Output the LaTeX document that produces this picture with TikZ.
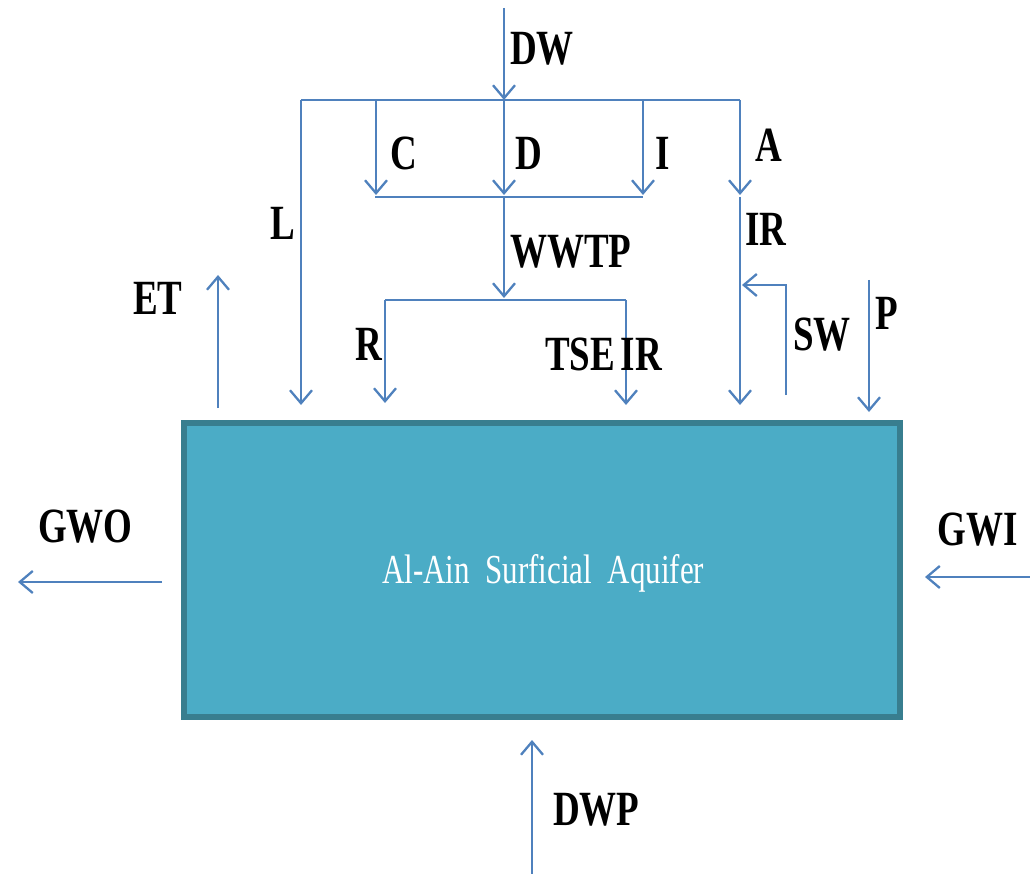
\documentclass[tikz,border=0pt]{standalone}
\usepackage{fontspec}
\setmainfont{Liberation Serif}
\usetikzlibrary{arrows.meta}
\definecolor{flow}{HTML}{4F81BD}
\definecolor{aqfill}{HTML}{4BACC6}
\definecolor{aqedge}{HTML}{387E8F}
\tikzset{
  flowline/.style={draw=flow, line width=2.3pt},
  flowarrow/.style={flowline, -{Straight Barb[length=13pt,width=22pt,line width=2.3pt]}},
  lbl/.style={anchor=base west, inner sep=0pt, font=\bfseries\fontsize{37}{40}\selectfont},
}
\newcommand{\tall}[1]{\scalebox{1}[1.33]{#1}}
\begin{document}
\begin{tikzpicture}[x=1pt,y=-1pt]
\useasboundingbox (0,0) rectangle (1030,874);
% aquifer box
\node[draw=aqedge, fill=aqfill, line width=6pt, minimum width=716pt, minimum height=294pt, inner sep=0pt, anchor=north west] (aq) at (181,420) {};
\node[anchor=base west, inner sep=0pt, text=white, font=\fontsize{31}{34}\selectfont] (aqlbl) at (382,583) {\tall{Al-Ain\hspace{0.5em}Surficial\hspace{0.5em}Aquifer}};
% coordinates
\coordinate (dwtop) at (504,8);
\coordinate (tl) at (301,100);
\coordinate (tc) at (376,100);
\coordinate (td) at (504,100);
\coordinate (ti) at (643,100);
\coordinate (tr) at (740,100);
\coordinate (bl) at (375,197);
\coordinate (bd) at (504,197);
\coordinate (br) at (643,197);
\coordinate (ctip) at (376,195);
\coordinate (dtip) at (504,195);
\coordinate (itip) at (643,195);
\coordinate (atip) at (740,195);
\coordinate (irtop) at (740,197);
\coordinate (irtip) at (740,405);
\coordinate (ltip) at (301,405);
\coordinate (wtip) at (504,298);
\coordinate (hl) at (385,300);
\coordinate (hr) at (626,300);
\coordinate (rtip) at (385,403);
\coordinate (tsetip) at (626,405);
\coordinate (swbot) at (786,395);
\coordinate (swcorner) at (786,285);
\coordinate (swtip) at (742,285);
\coordinate (ptop) at (869,280);
\coordinate (ptip) at (869,412);
\coordinate (etbot) at (218,408);
\coordinate (ettip) at (218,275);
\coordinate (gwostart) at (162,582);
\coordinate (gwotip) at (18,582);
\coordinate (gwistart) at (1030,577);
\coordinate (gwitip) at (925,577);
\coordinate (dwpstart) at (532,874);
\coordinate (dwptip) at (532,740);
% connectors
\draw[flowarrow] (dwtop) -- (td);
\draw[flowline] (tl) -- (tr);
\draw[flowarrow] (tl) -- (ltip);
\draw[flowarrow] (tc) -- (ctip);
\draw[flowarrow] (td) -- (dtip);
\draw[flowarrow] (ti) -- (itip);
\draw[flowarrow] (tr) -- (atip);
\draw[flowline] (bl) -- (br);
\draw[flowarrow] (irtop) -- (irtip);
\draw[flowarrow] (bd) -- (wtip);
\draw[flowline] (hl) -- (hr);
\draw[flowarrow] (hl) -- (rtip);
\draw[flowarrow] (hr) -- (tsetip);
\draw[flowarrow] (swbot) -- (swcorner) -- (swtip);
\draw[flowarrow] (ptop) -- (ptip);
\draw[flowarrow] (etbot) -- (ettip);
\draw[flowarrow] (gwostart) -- (gwotip);
\draw[flowarrow] (gwistart) -- (gwitip);
\draw[flowarrow] (dwpstart) -- (dwptip);
% labels
\node[lbl] (dwl) at (510,65) {\tall{DW}};
\node[lbl] (cl) at (390,170) {\tall{C}};
\node[lbl] (dl) at (515,170) {\tall{D}};
\node[lbl] (il) at (655,170) {\tall{I}};
\node[lbl] (al) at (755,162) {\tall{A}};
\node[lbl] (ll) at (270,240) {\tall{L}};
\node[lbl] (irl) at (745,246) {\tall{IR}};
\node[lbl] (wl) at (510,268) {\tall{WWTP}};
\node[lbl] (rl) at (355,360) {\tall{R}};
\node[lbl] (tsel) at (545,370) {\tall{TSE\hspace{0.15em}IR}};
\node[lbl] (swl) at (793,350) {\tall{SW}};
\node[lbl] (pl) at (875,330) {\tall{P}};
\node[lbl] (etl) at (133,315) {\tall{ET}};
\node[lbl] (gwol) at (38,542) {\tall{GWO}};
\node[lbl] (gwil) at (937,545) {\tall{GWI}};
\node[lbl] (dwpl) at (553,825) {\tall{DWP}};
\end{tikzpicture}
\end{document}
